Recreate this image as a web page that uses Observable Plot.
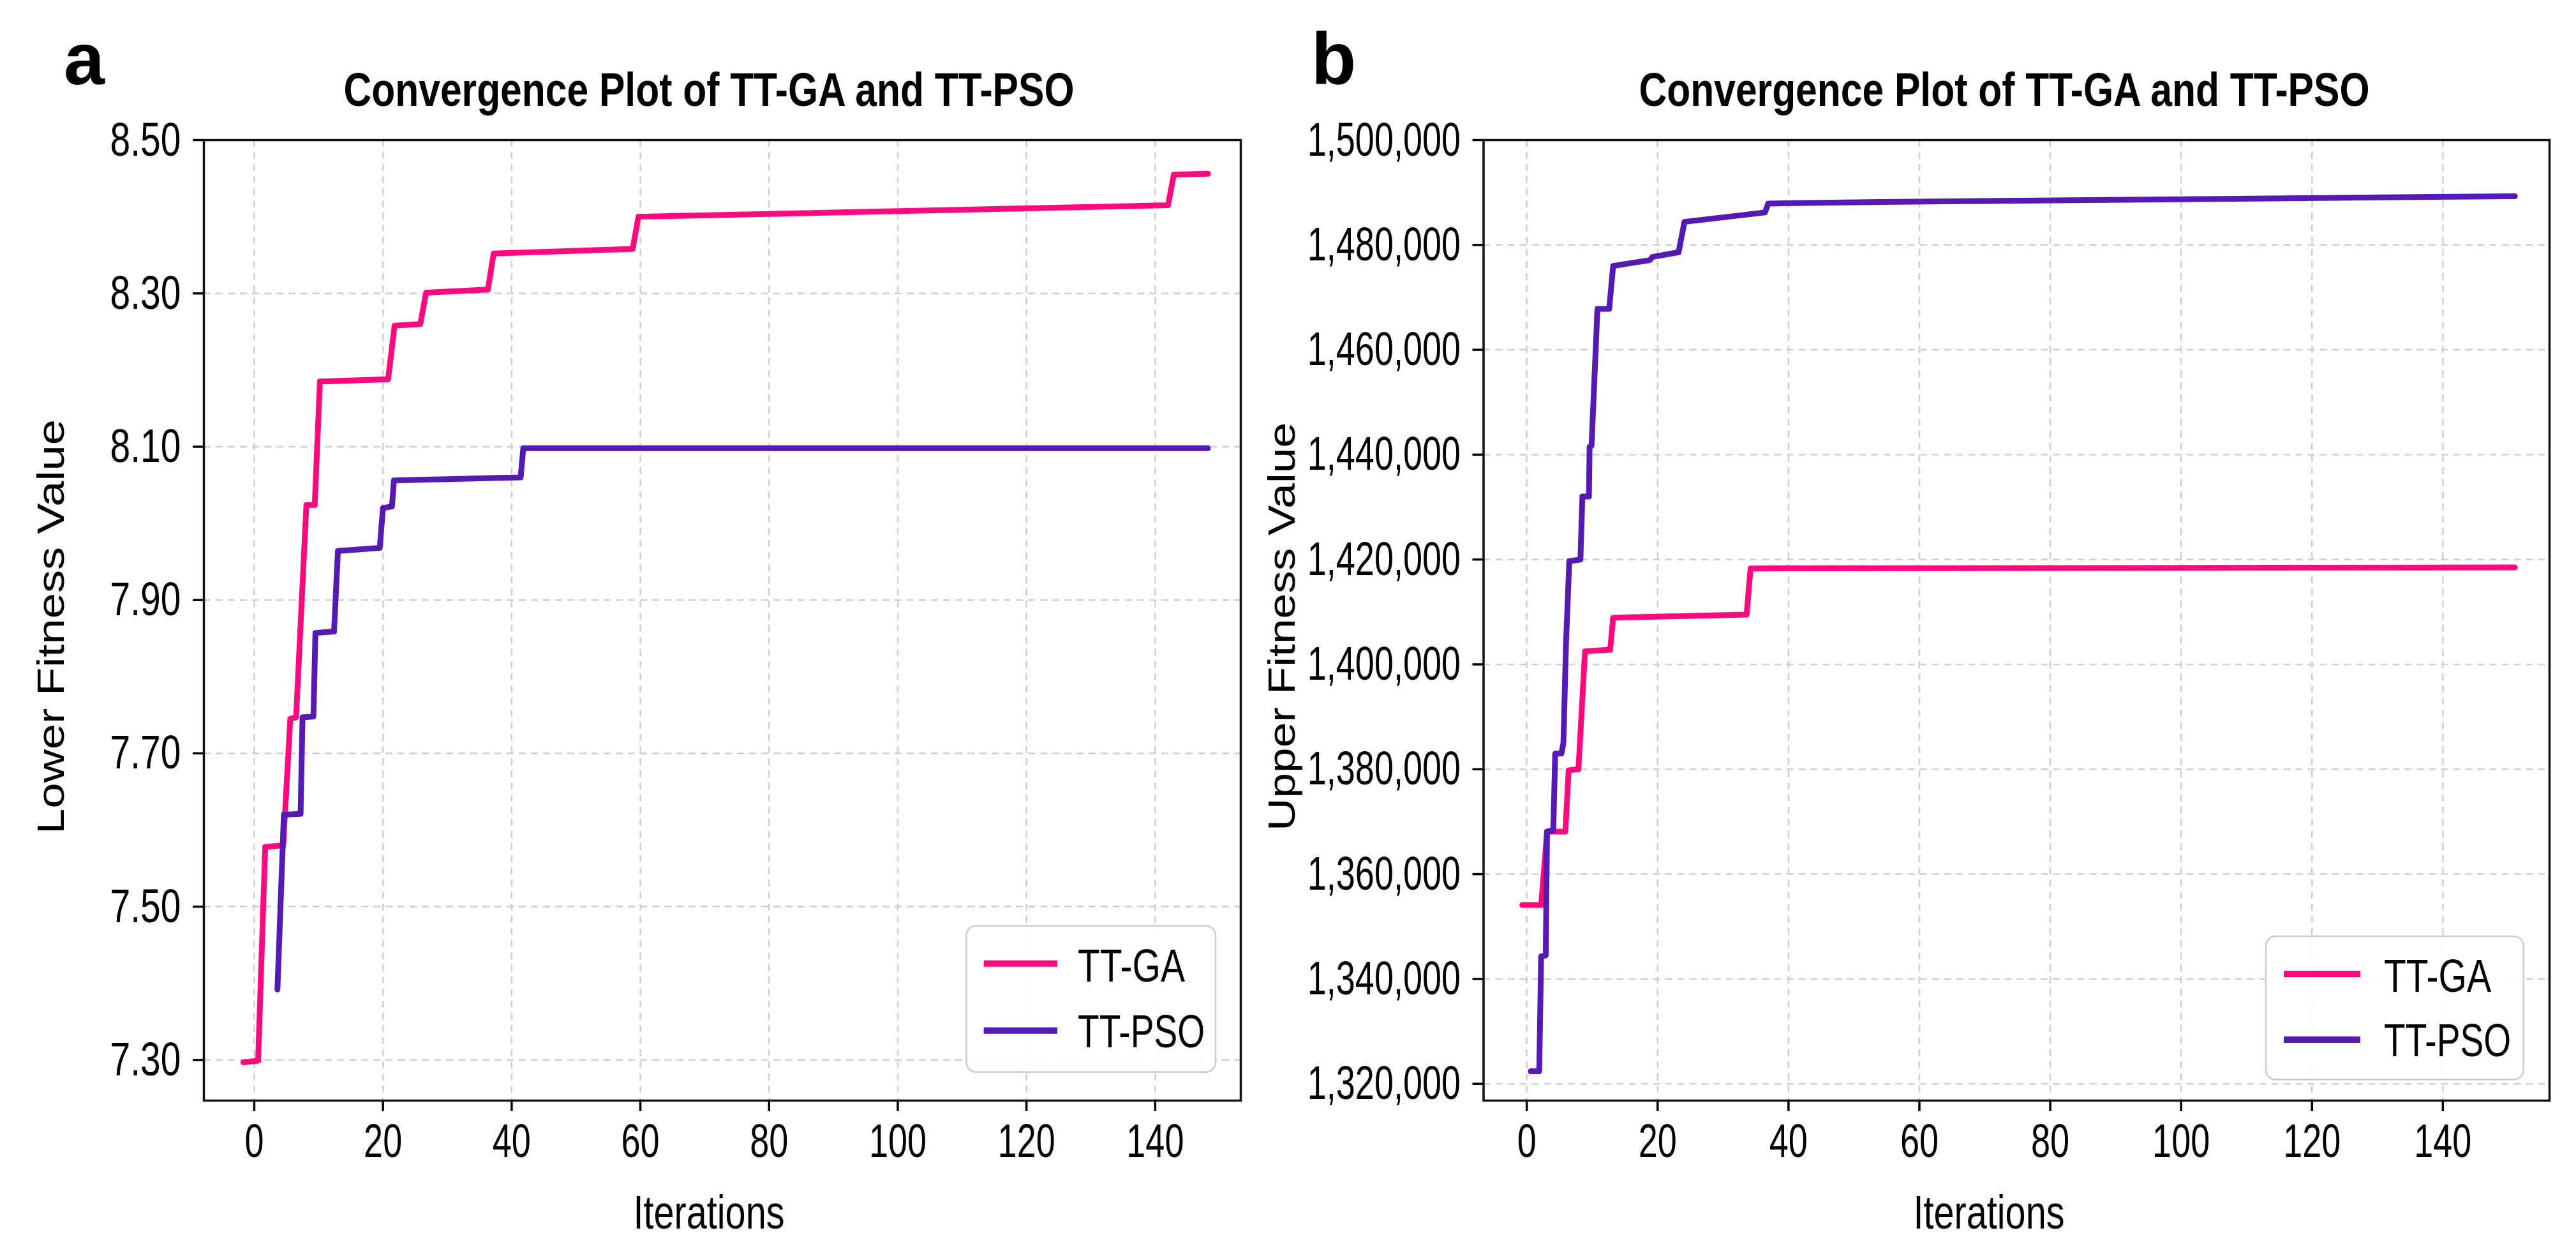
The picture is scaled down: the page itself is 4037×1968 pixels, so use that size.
<!DOCTYPE html>
<html>
<head>
<meta charset="utf-8">
<script src="https://cdn.jsdelivr.net/npm/d3@7"></script>
<script src="https://cdn.jsdelivr.net/npm/@observablehq/plot@0.6"></script>
<style>
  html, body { margin: 0; padding: 0; background: #ffffff; }
  #fig { position: relative; width: 4037px; height: 1968px; overflow: hidden; background: #ffffff; }
  #fig > svg { position: absolute; top: 0; }
  #overlay { left: 0; pointer-events: none; }
</style>
</head>
<body>
<div id="fig"></div>
<script>
// ---------------- data ----------------
const seriesNames = ["TT-GA", "TT-PSO"];
const seriesColors = ["#fe0a7e", "#5519b4"];

const xTicks = [0, 20, 40, 60, 80, 100, 120, 140];
const yTicksA = [7.30, 7.50, 7.70, 7.90, 8.10, 8.30, 8.50];
const yTicksB = [1320000, 1340000, 1360000, 1380000, 1400000, 1420000, 1440000, 1460000, 1480000, 1500000];

// Panel a: Lower fitness value (breakpoints)
const iterA_GA = [-1.7, 0.6, 1.7, 4.5, 5.6, 6.5, 8.1, 9.4, 10.2, 20.8, 21.8, 25.8, 26.7, 36.3, 37.2, 58.8, 59.7, 142.0, 142.9, 148.2];
const valA_GA  = [7.297, 7.299, 7.578, 7.580, 7.745, 7.747, 8.024, 8.024, 8.185, 8.188, 8.258, 8.260, 8.301, 8.305, 8.352, 8.358, 8.400, 8.415, 8.455, 8.456];
const iterA_PSO = [3.6, 4.6, 7.2, 7.5, 9.2, 9.5, 12.4, 13.0, 19.5, 20.0, 21.4, 21.7, 41.4, 41.8, 148.2];
const valA_PSO  = [7.392, 7.620, 7.621, 7.747, 7.748, 7.857, 7.859, 7.964, 7.968, 8.020, 8.022, 8.056, 8.060, 8.098, 8.098];

// Panel b: Upper fitness value
const iterB_GA = [-0.7, 2.2, 3.1, 5.9, 6.4, 7.9, 8.9, 12.75, 13.2, 33.6, 34.2, 151.0];
const valB_GA  = [1354100, 1354100, 1368100, 1368100, 1379800, 1380000, 1402500, 1402800, 1408900, 1409500, 1418300, 1418500];
const iterB_PSO = [0.6, 1.9, 2.2, 2.9, 3.1, 4.05, 4.35, 5.3, 5.6, 6.0, 6.5, 8.2, 8.5, 9.5, 9.6, 9.9, 10.8, 12.6, 13.2, 18.8, 19.2, 23.2, 24.1, 36.4, 36.9, 54.0, 151.0];
const valB_PSO  = [1322400, 1322400, 1344300, 1344500, 1368100, 1368400, 1383000, 1383000, 1385000, 1404000, 1419700, 1420000, 1432000, 1432000, 1441500, 1441700, 1467800, 1467800, 1476000, 1477100, 1477700, 1478600, 1484400, 1486200, 1487900, 1488200, 1489300];

// ---------------- helpers ----------------
const FONT = "'Liberation Sans', Arial, Helvetica, sans-serif";
const rows = (xs, ys) => xs.map((x, i) => ({x, y: ys[i]}));
const fig = document.getElementById("fig");

function condense(svg, selector, factor) {
  svg.querySelectorAll(selector).forEach(t => {
    const L = t.getComputedTextLength();
    if (L > 0) {
      t.setAttribute("textLength", (L * factor).toFixed(1));
      t.setAttribute("lengthAdjust", "spacingAndGlyphs");
    }
  });
}

function panel({left, width, mLeft, mRight, xDomain, yDomain, yTicks, yFormat, ga, pso, yFactor}) {
  const gridStyle = {stroke: "#cfcfcf", strokeOpacity: 1, strokeWidth: 2.5, strokeDasharray: "11,8"};
  const svg = Plot.plot({
    width, height: 1968,
    marginLeft: mLeft, marginRight: mRight, marginTop: 219, marginBottom: 244,
    style: {fontFamily: FONT, fontSize: "75px", color: "#000", background: "transparent", overflow: "visible"},
    x: {domain: xDomain},
    y: {domain: yDomain},
    marks: [
      Plot.gridX(xTicks, gridStyle),
      Plot.gridY(yTicks, gridStyle),
      Plot.axisX(xTicks, {tickSize: 17, tickPadding: 18, strokeWidth: 3.5, tickFormat: d => String(d), label: null, fontSize: 75}),
      Plot.axisY(yTicks, {tickSize: 17, tickPadding: 19, strokeWidth: 3.5, tickFormat: yFormat, label: null, fontSize: 75}),
      Plot.line(ga, {x: "x", y: "y", stroke: seriesColors[0], strokeWidth: 9, strokeLinejoin: "round", strokeLinecap: "round"}),
      Plot.line(pso, {x: "x", y: "y", stroke: seriesColors[1], strokeWidth: 9, strokeLinejoin: "round", strokeLinecap: "round"}),
      Plot.frame({stroke: "#111", strokeWidth: 3.5})
    ]
  });
  svg.style.left = left + "px";
  fig.appendChild(svg);
  condense(svg, 'g[aria-label="x-axis tick label"] text', 0.72);
  condense(svg, 'g[aria-label="y-axis tick label"] text', yFactor);
  return svg;
}

panel({
  left: 0, width: 2000, mLeft: 319, mRight: 56,
  xDomain: [-7.83, 153.3], yDomain: [7.247, 8.50],
  yTicks: yTicksA, yFormat: d3.format(".2f"),
  ga: rows(iterA_GA, valA_GA), pso: rows(iterA_PSO, valA_PSO), yFactor: 0.76
});
panel({
  left: 2000, width: 2037, mLeft: 324.5, mRight: 42,
  xDomain: [-6.6, 156.3], yDomain: [1316800, 1500000],
  yTicks: yTicksB, yFormat: d3.format(","),
  ga: rows(iterB_GA, valB_GA), pso: rows(iterB_PSO, valB_PSO), yFactor: 0.72
});

// ---------------- annotations (titles, labels, legends) ----------------
const NS = "http://www.w3.org/2000/svg";
const ov = document.createElementNS(NS, "svg");
ov.setAttribute("id", "overlay");
ov.setAttribute("width", 4037);
ov.setAttribute("height", 1968);
ov.style.fontFamily = FONT;
fig.appendChild(ov);

function txt(s, attrs) {
  const t = document.createElementNS(NS, "text");
  for (const k in attrs) t.setAttribute(k, attrs[k]);
  t.textContent = s;
  ov.appendChild(t);
  return t;
}
function el(name, attrs) {
  const e = document.createElementNS(NS, name);
  for (const k in attrs) e.setAttribute(k, attrs[k]);
  ov.appendChild(e);
  return e;
}

const title = "Convergence Plot of TT-GA and TT-PSO";
const panels = [
  {letter: "a", letterX: 100, titleX: 1111, xlabX: 1111, ylab: "Lower Fitness Value", ylabX: 99.5, ylabLen: 650,
   leg: {x: 1514.4, y: 1450.7, w: 390.5, h: 229, lx1: 1541.7, lx2: 1657, ly: [1509.7, 1614.8], tx: 1689, ty: [1537.6, 1641]}},
  {letter: "b", letterX: 2055, titleX: 3141, xlabX: 3117, ylab: "Upper Fitness Value", ylabX: 2029, ylabLen: 640,
   leg: {x: 3551, y: 1467, w: 403.7, h: 224.6, lx1: 3579, lx2: 3699, ly: [1526, 1629], tx: 3736, ty: [1554, 1655]}}
];

panels.forEach(p => {
  txt(p.letter, {x: p.letterX, y: 132, "font-size": 115, "font-weight": "bold", fill: "#000"});
  txt(title, {x: p.titleX, y: 166, "font-size": 75, "font-weight": "bold", "text-anchor": "middle",
    textLength: 1145, lengthAdjust: "spacingAndGlyphs", fill: "#000"});
  txt("Iterations", {x: p.xlabX, y: 1925, "font-size": 74, "text-anchor": "middle",
    textLength: 237, lengthAdjust: "spacingAndGlyphs", fill: "#000"});
  txt(p.ylab, {transform: `translate(${p.ylabX},982) rotate(-90)`, "font-size": 59, "text-anchor": "middle",
    textLength: p.ylabLen, lengthAdjust: "spacingAndGlyphs", fill: "#000"});
  const L = p.leg;
  el("rect", {x: L.x, y: L.y, width: L.w, height: L.h, rx: 15, ry: 15, fill: "#fff", "fill-opacity": 0.92,
    stroke: "#cccccc", "stroke-width": 2.5});
  seriesNames.forEach((name, i) => {
    el("line", {x1: L.lx1, x2: L.lx2, y1: L.ly[i], y2: L.ly[i], stroke: seriesColors[i], "stroke-width": 10});
    txt(name, {x: L.tx, y: L.ty[i], "font-size": 73, textLength: i === 0 ? 168 : 199,
      lengthAdjust: "spacingAndGlyphs", fill: "#000"});
  });
});
</script>
</body>
</html>
